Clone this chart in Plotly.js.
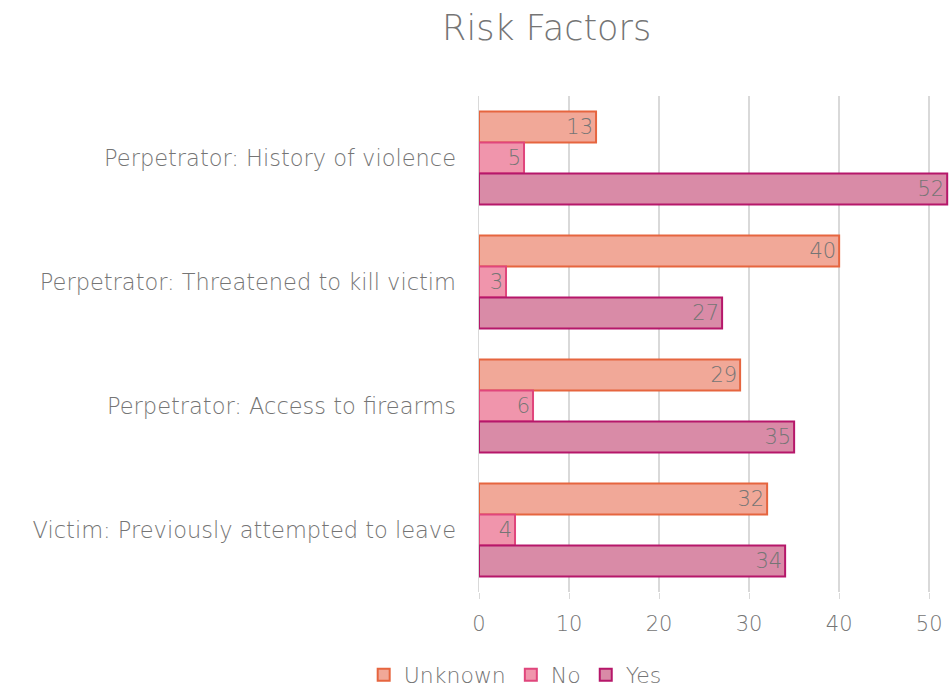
<!DOCTYPE html>
<html><head><meta charset="utf-8">
<script src="https://cdn.plot.ly/plotly-3.0.1.min.js"></script>
<style>html,body{margin:0;padding:0;background:#fff}#chart{width:949px;height:687px}</style>
</head><body><div id="chart"></div>
<script>
const categories = ["Perpetrator: History of violence","Perpetrator: Threatened to kill victim","Perpetrator: Access to firearms","Victim: Previously attempted to leave"];
const unknownVals = [13, 40, 29, 32];
const noVals = [5, 3, 6, 4];
const yesVals = [52, 27, 35, 34];
const xTicks = [0, 10, 20, 30, 40, 50];

const FONT = "'DejaVu Sans', sans-serif";
const GREY = '#757575';
function tr(name, vals, fill, line){
  return {type:'bar', orientation:'h', name:name, y:categories, x:vals,
    text:vals.map(String), textposition:'inside', insidetextanchor:'end', constraintext:'none',
    textfont:{family:FONT, size:21, color:GREY, weight:200},
    marker:{color:fill, line:{color:line, width:2}}, hoverinfo:'x+name'};
}
const data = [
  tr('Unknown', unknownVals, '#f1a898', '#e6653f'),
  tr('No', noVals, '#f095ac', '#e0467c'),
  tr('Yes', yesVals, '#d98ba7', '#b6176a')
];
const layout = {
  width:949, height:687, paper_bgcolor:'#fff', plot_bgcolor:'#fff',
  margin:{l:479, r:0, t:96, b:95, autoexpand:false},
  font:{family:FONT, color:GREY, weight:200},
  title:{text:'Risk Factors', xref:'container', x:0.576, xanchor:'center', y:0.96, yanchor:'middle', font:{size:35, color:GREY, family:FONT, weight:200}},
  barmode:'group', bargap:0.25, bargroupgap:0,
  xaxis:{range:[0,52.2], tickvals:xTicks, showgrid:true, gridcolor:'#d9d9d9', gridwidth:1.5, zeroline:false, automargin:false,
    ticks:'outside', ticklen:6, tickcolor:'#d9d9d9', ticklabelstandoff:7, tickfont:{size:21, color:GREY, weight:200}, showline:false, fixedrange:true},
  yaxis:{autorange:'reversed', showgrid:false, zeroline:false, showline:true, linecolor:'#d9d9d9', linewidth:1.5, automargin:false,
    ticks:'', ticklabelstandoff:17, tickfont:{size:22.5, color:GREY, weight:200}},
  legend:{orientation:'h', x:0.077, xanchor:'center', y:-0.125, yanchor:'top', font:{size:22, color:GREY, weight:200}, traceorder:'normal'},
  showlegend:true
};
Plotly.newPlot('chart', data, layout, {displayModeBar:false, staticPlot:true});
</script></body></html>
